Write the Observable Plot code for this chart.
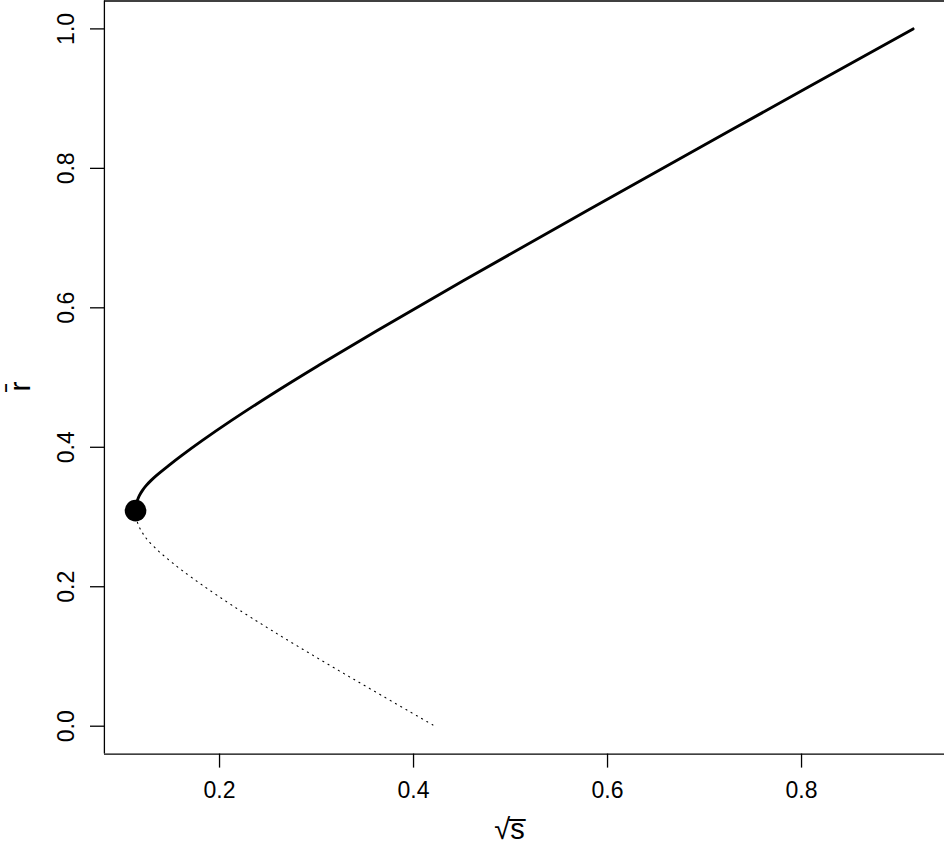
<!DOCTYPE html>
<html><head><meta charset="utf-8">
<script src="https://cdn.jsdelivr.net/npm/d3@7"></script>
<script src="https://cdn.jsdelivr.net/npm/@observablehq/plot@0.6"></script>
<style>
html,body{margin:0;padding:0;background:#fff}
svg{display:block}
</style>
</head><body><div id="chart"></div>
<script>
// Stable (upper, solid) branch: sqrt(s) vs r-bar
const upperX = [0.1134,0.1138,0.1152,0.1173,0.1204,0.1243,0.1292,0.1348,0.1475,0.1608,0.1820,0.2120,0.2516,0.3016,0.3622,0.4512,0.5787,0.7260,0.9150];
const upperY = [0.3092,0.3164,0.3235,0.3307,0.3379,0.3450,0.3522,0.3594,0.3737,0.3880,0.4095,0.4382,0.4740,0.5170,0.5672,0.6389,0.7392,0.8538,1.0];
// Unstable (lower, dotted) branch
const lowerX = [0.1134,0.1138,0.1148,0.1166,0.1192,0.1224,0.1264,0.1365,0.1486,0.1616,0.1829,0.2133,0.2540,0.3053,0.3583,0.4222];
const lowerY = [0.3092,0.3020,0.2949,0.2877,0.2805,0.2734,0.2662,0.2519,0.2375,0.2232,0.2017,0.1730,0.1372,0.0942,0.0512,0.0];
// Fold (saddle-node) point
const foldX = [0.1134];
const foldY = [0.3092];

const xTicks = [0.2,0.4,0.6,0.8];
const xTickLabels = ["0.2","0.4","0.6","0.8"];
const yTicks = [0.0,0.2,0.4,0.6,0.8,1.0];
const yTickLabels = ["0.0","0.2","0.4","0.6","0.8","1.0"];
const xTitle = "√s\u0305";
const yTitle = "r\u0304";

const xLim = [0.0813, 0.9479];
const yLim = [-0.04, 1.04];

const upper = upperX.map((x,i)=>({x, y: upperY[i]}));
const lower = lowerX.map((x,i)=>({x, y: lowerY[i]}));
const fold = foldX.map((x,i)=>({x, y: foldY[i]}));

const font = "'Liberation Sans', Arial, Helvetica, sans-serif";
const fs = 23;

const chart = Plot.plot({
  width: 944,
  height: 853,
  marginLeft: 104,
  marginRight: 0,
  marginTop: 0.5,
  marginBottom: 99.4,
  style: {fontFamily: font, background: "#fff", overflow: "visible"},
  x: {domain: xLim, range: [103.9, 944.5]},
  y: {domain: yLim},
  marks: [
    Plot.ruleY([yLim[0], yLim[1]], {stroke: "black", strokeWidth: 1.3}),
    Plot.ruleX([xLim[0]], {stroke: "black", strokeWidth: 1.3}),
    Plot.axisX({ticks: xTicks, tickSize: 14, tickFormat: () => "", label: null, strokeWidth: 1.3, stroke: "black"}),
    Plot.axisY({ticks: yTicks, tickSize: 14, tickFormat: () => "", label: null, strokeWidth: 1.3, stroke: "black"}),
    Plot.text(xTicks, {x: d => d, text: (d,i) => xTickLabels[i], frameAnchor: "bottom", dy: 37, lineAnchor: "middle", textAnchor: "middle", fontSize: fs, fill: "black"}),
    Plot.text(yTicks, {y: d => d, text: (d,i) => yTickLabels[i], frameAnchor: "left", dx: -38, rotate: -90, lineAnchor: "middle", textAnchor: "middle", fontSize: fs, fill: "black"}),
    Plot.text([xTitle], {text: d => d, frameAnchor: "bottom", dx: -15, dy: 76, lineAnchor: "middle", fontSize: 29, fill: "black"}),
    Plot.text([yTitle], {text: d => d, frameAnchor: "left", dx: -84, dy: 14, rotate: -90, lineAnchor: "middle", fontSize: 30, fill: "black"}),
    Plot.line(lower, {x: "x", y: "y", curve: "catmull-rom", stroke: "black", strokeWidth: 1.1, strokeDasharray: "1.1,4.9"}),
    Plot.line(upper, {x: "x", y: "y", curve: "catmull-rom", stroke: "black", strokeWidth: 2.9}),
    Plot.dot(fold, {x: "x", y: "y", r: 10.8, fill: "black", stroke: "none"})
  ]
});
document.getElementById("chart").appendChild(chart);
</script>
</body></html>
